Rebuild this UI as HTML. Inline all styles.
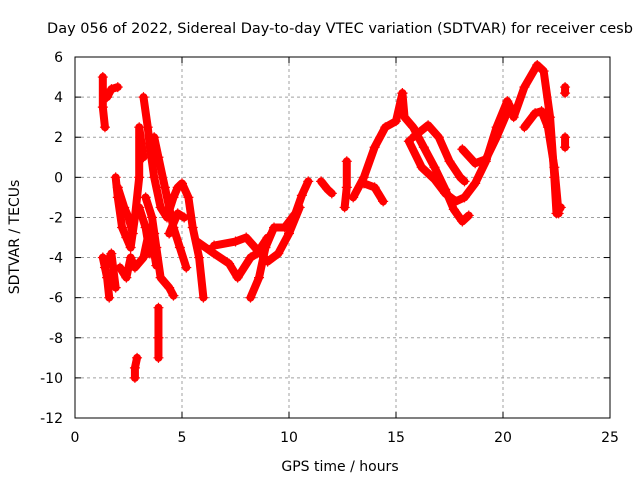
<!DOCTYPE html>
<html><head><meta charset="utf-8"><style>
body{margin:0;background:#fff}
svg{font-family:"DejaVu Sans","Liberation Sans",sans-serif;font-size:14px}
</style></head><body>
<svg id="chart" width="640" height="480" xmlns="http://www.w3.org/2000/svg">
<text x="340" y="33" text-anchor="middle" style="font-size:14.5px">Day 056 of 2022, Sidereal Day-to-day VTEC variation (SDTVAR) for receiver cesb</text>
<text x="340" y="471" text-anchor="middle">GPS time / hours</text>
<text transform="translate(19,237) rotate(-90)" text-anchor="middle">SDTVAR / TECUs</text>
<g id="grid"></g>
<g id="ticks"></g>
<g id="series"></g>
<rect x="75" y="57" width="535" height="361" fill="none" stroke="#000" stroke-width="1"/>
</svg>
<script>
const xTicks=[0,5,10,15,20,25];
const yTicks=[6,4,2,0,-2,-4,-6,-8,-10,-12];
const track1=[[1.3,5.0],[1.3,3.5],[1.4,2.5]];
const track2=[[1.5,4.0],[1.7,4.4],[2.0,4.5]];
const track3=[[1.3,-4.0],[1.5,-5.0],[1.6,-6.0]];
const track4=[[1.9,0.0],[2.0,-1.0],[2.2,-2.5],[2.4,-3.0],[2.6,-3.5],[2.8,-2.0],[3.0,0.0],[3.0,2.5],[3.2,1.0]];
const track5=[[3.2,4.0],[3.4,2.5],[3.5,1.5],[3.7,0.0],[4.0,-1.5],[4.3,-2.0],[4.6,-1.0],[4.8,-0.5],[5.0,-0.3],[5.3,-1.0],[5.5,-2.5],[5.8,-4.0],[6.0,-6.0]];
const track6=[[3.7,2.0],[3.9,1.0],[4.2,-0.5],[4.6,-2.5],[4.9,-3.5],[5.2,-4.5]];
const track7=[[3.3,-1.0],[3.6,-2.0],[3.8,-3.5],[4.0,-5.0],[4.4,-5.5],[4.6,-5.9]];
const track8=[[2.8,-10.0],[2.8,-9.5],[2.9,-9.0]];
const track9=[[3.9,-6.5],[3.9,-8.0],[3.9,-9.0]];
const track10=[[2.1,-4.5],[2.4,-5.0],[2.6,-4.0],[2.8,-4.5],[3.2,-4.0],[3.5,-2.5],[3.8,-4.4]];
const track11=[[5.7,-3.2],[6.5,-3.8],[7.2,-4.3],[7.6,-5.0],[8.2,-4.0],[8.5,-3.8],[9.0,-3.0]];
const track12=[[6.5,-3.4],[7.5,-3.2],[8.0,-3.0],[8.5,-3.6],[9.0,-4.2],[9.5,-3.8],[10.0,-2.8],[10.5,-1.5]];
const track13=[[8.2,-6.0],[8.6,-5.0],[8.9,-3.5],[9.3,-2.5],[9.8,-2.5],[10.3,-1.8],[10.6,-0.9],[10.9,-0.2]];
const track14=[[11.5,-0.2],[11.8,-0.6],[12.0,-0.8]];
const track15=[[12.6,-1.5],[12.7,-0.5],[12.7,0.8]];
const track16=[[13.0,-1.0],[13.5,0.0],[14.0,1.5],[14.5,2.5],[15.0,2.8],[15.3,4.2]];
const track17=[[13.5,-0.3],[14.0,-0.5],[14.4,-1.2]];
const track18=[[15.3,4.2],[15.4,3.0],[15.8,2.5],[16.3,1.5],[16.8,0.5],[17.3,-0.6],[17.7,-1.6],[18.1,-2.2],[18.4,-1.9]];
const track19=[[15.6,1.8],[16.2,0.5],[16.8,-0.1],[17.3,-0.8],[17.8,-1.2],[18.2,-1.0],[18.7,-0.3],[19.2,0.8],[19.7,2.5],[20.2,3.8],[20.5,3.2]];
const track20=[[15.8,2.0],[16.5,2.6],[17.0,2.0],[17.5,0.8],[18.0,0.0],[18.2,-0.2]];
const track21=[[18.1,1.4],[18.7,0.7],[19.2,0.9],[19.7,2.0],[20.3,3.5]];
const track22=[[20.5,3.0],[21.0,4.5],[21.6,5.6],[21.9,5.3],[22.2,3.0],[22.4,0.0],[22.5,-1.8],[22.7,-1.5]];
const track23=[[21.0,2.5],[21.5,3.2],[21.8,3.3],[22.1,2.5],[22.4,0.5],[22.6,-1.8]];
const track24=[[22.9,4.5],[22.9,4.2]];
const track25=[[22.9,2.0],[22.9,1.5]];
const track26=[[1.4,-4.5],[1.7,-3.8],[1.9,-5.5]];
const track27=[[2.0,-0.5],[2.3,-1.5],[2.5,-2.0],[2.7,-2.8]];
const track28=[[3.0,-1.5],[3.3,-2.5],[3.5,-3.8],[3.7,-2.8]];
const track29=[[4.4,-2.8],[4.8,-1.8],[5.1,-2.0]];
const tracks=[track1,track2,track3,track4,track5,track6,track7,track8,track9,track10,track11,track12,track13,track14,track15,track16,track17,track18,track19,track20,track21,track22,track23,track24,track25,track26,track27,track28,track29];

const NS="http://www.w3.org/2000/svg";
const L=75,R=610,T=57,B=418;
function xs(h){return L+(h-0)/(25-0)*(R-L);}
function ys(v){return T+(6-v)/(6-(-12))*(B-T);}
const grid=document.getElementById('grid'),ticks=document.getElementById('ticks'),ser=document.getElementById('series');
function mk(tag,attrs,parent){const e=document.createElementNS(NS,tag);for(const k in attrs)e.setAttribute(k,attrs[k]);parent.appendChild(e);return e;}
xTicks.forEach(t=>{
  const x=xs(t);
  if(t>0&&t<25){const g=mk('line',{x1:x,x2:x,y1:T,y2:B,stroke:'#a0a0a0','stroke-dasharray':'3,3'},grid);
  
  }
  mk('line',{x1:x,x2:x,y1:B,y2:B-6,stroke:'#000'},ticks);
  mk('line',{x1:x,x2:x,y1:T,y2:T+6,stroke:'#000'},ticks);
  const tx=mk('text',{x:x,y:B+24,'text-anchor':'middle'},ticks);tx.textContent=t;
  
  
});
yTicks.forEach(t=>{
  const y=ys(t);
  if(t<6&&t>-12){const g=mk('line',{x1:L,x2:R,y1:y,y2:y,stroke:'#a0a0a0','stroke-dasharray':'3,3'},grid);
  
  }
  mk('line',{x1:L,x2:L+6,y1:y,y2:y,stroke:'#000'},ticks);
  mk('line',{x1:R,x2:R-6,y1:y,y2:y,stroke:'#000'},ticks);
  const tx=mk('text',{x:L-12,y:y+5,'text-anchor':'end'},ticks);tx.textContent=t;
  
  
});
tracks.forEach((tr,i)=>{
  const pl=mk('polyline',{points:tr.map(p=>xs(p[0])+','+ys(p[1])).join(' '),fill:'none',stroke:'#ff0000','stroke-width':8,'stroke-linejoin':'round','stroke-linecap':'round'},ser);
  
  
  tr.forEach(p=>{
    const x=xs(p[0]),y=ys(p[1]);
    const m=mk('path',{d:`M${x-5},${y}H${x+5}M${x},${y-5}V${y+5}`,stroke:'#ff0000','stroke-width':1.2},ser);
    
    
  });
});
</script>
</body></html>
